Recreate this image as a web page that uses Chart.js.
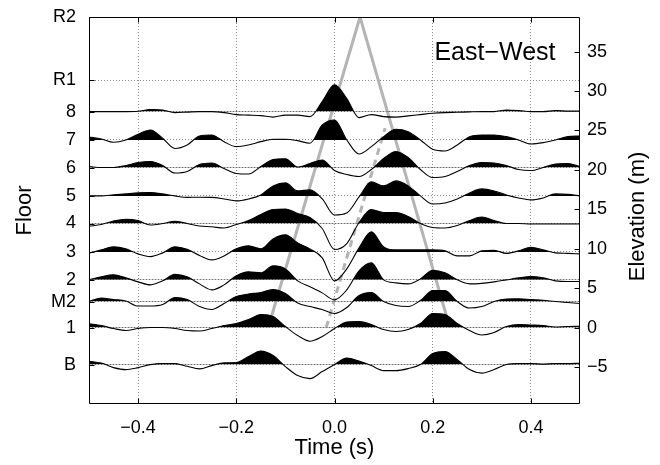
<!DOCTYPE html>
<html>
<head>
<meta charset="utf-8">
<script src="https://cdn.jsdelivr.net/npm/chart.js@4.4.1/dist/chart.umd.min.js"></script>
<style>
  html, body { margin: 0; padding: 0; background: #fff; }
  canvas { display: block; }
</style>
</head>
<body>
<canvas id="chart" width="660" height="465"></canvas>
<script>
// ===============================
// DATA
// ===============================
// floor levels (elevation in m) used for the left axis
const floorNames = ["B", "1", "M2", "2", "3", "4", "5", "6", "7", "8", "R1", "R2"];
const floorElev = [-4.7, 0, 3.3, 6.05, 9.6, 13.2, 16.7, 20.3, 23.8, 27.4, 31.4, 39.4];

// sample times (s)
const timeS = [-0.5, -0.475, -0.45, -0.425, -0.4, -0.375, -0.35, -0.325, -0.3, -0.275,
  -0.25, -0.225, -0.2, -0.175, -0.15, -0.125, -0.1, -0.075, -0.05, -0.025,
  0, 0.025, 0.05, 0.075, 0.1, 0.125, 0.15, 0.175, 0.2, 0.225,
  0.25, 0.275, 0.3, 0.325, 0.35, 0.375, 0.4, 0.425, 0.45, 0.475, 0.5];

// trace amplitudes per floor (plot units, scaled by GAIN to metres)
const amp8 = [0, 0, 0, 0, 0.3, 2, 1.5, -1, -0.5, 0, 0, -1, -3, -3.5, -4, -5.5, -3.5, -3.5, -5, 10,
  26.7, 13, -6, -3, -5, -5.5, -4.3, -3, -1.7, -1, -0.7, -0.3, 0, 0, 1.5, 1, 0, 0, 1, 0.5, 0.5];
const amp7 = [3, 1, -2.3, 0, 5.7, 10, 1.7, -8.5, -5, 4, 5, -1.7, -6.7, -5, -1.7, 0.7, 0.7, -0.7, -3.3, 15,
  20, 0, -14, -6.7, 3.3, 10.7, 8.3, 0, -9.3, -11, -5, 3.3, 5, 5, 3.3, 0, -4, -2.7, 0, 3.3, 4];
const amp6 = [1, 0, 0, 2, 5, 6, 2, -5.5, -4, 3, 4.5, -1, -6, -6.5, 1, 8, 8.7, 0.5, 4, 7.5,
  -3, -7, -9, -2, 9, 16, 10, -2, -10, -9, -4, 2, 5, 4.5, 2, -2, -3, 0, 3.5, 4, 1];
const amp5 = [0, 0, 1, 2, 3, 3.3, 2, 0, -1.5, -1.3, -1.5, -3, -5, -3, 1, 10, 13, 5, 6, -3,
  -19, -17, -1, 14, 10, 15, 10, 0, -8, -7, -3, 3, 7, 5, 1, -2, -4, -2, 2, 1.5, 0];
const amp4 = [-2.7, -1, 2.5, 4.3, 3, -1.5, 0, 2.3, 0, -2.5, -3.3, -4.5, -1, 3, 9, 14, 14.5, 10, 6, -5,
  -26, -20, 1, 14, 11, 11, 7, 0, -4, -4.5, -2, 3, 6.5, 3, 0, 0, -0.5, -0.5, -0.5, -0.5, -0.5];
const amp3 = [-1.3, 2, 5, 3, -2, -4.7, -1, 5, 2.5, -3.5, -8, -4, 3, 6, 3, 13, 17, 9, 3, -6,
  -29, -17, 4, 20, 5, 2, 2, 2, 2, 1, -4, -4, 1, 1.5, -1.5, 1, 4.7, 2, -1, -1.5, -2];
const amp2 = [0, 3, 5, 2, -2, -5, -1, 5.5, 3, -4, -10, -5, 4, 8, 7, 14, 11, -1, -7, -13,
  -20, -10, 9, 17, 0, -3, -4, 1, 9.5, 7, 0, -4, -3.5, -2, 0, 2, 3.3, 2, -1, -1.7, -1.7];
const ampM2 = [0, 3.5, 2, 0.5, -4.5, -4.5, -3, 4, 2, -5, -8, -2, 5, 7.5, 9, 12, 8, -1.5, -5, -8,
  -12, -6, 6, 9, 0, -4, -5, 1, 11, 11, 0, -6.5, -5, 0, 2.5, 2.7, 2, 1.3, 0, -1, -2];
const amp1 = [3.7, 2, -1, -3, -1, 0, 0, -1, -3, -3.5, -1, 2, 4, 8, 13, 11, 1, -8, -13.7, -9,
  -1, 5.5, 6, 3, -2, -4, -2, 4, 14, 13, 4, -3, -7.5, -5, 1, 3, 2.5, 2, 0.5, 1, 1.3];
const ampB = [3.3, 1.5, -3, -5, -3, 0, 1, 1, -1.7, -4.3, -1, 1.7, 2, 8, 13.5, 9, -2, -11, -14, -7,
  0, 6.5, 3.5, -1, -6, -6, -4, 0, 11, 13, 5, -5, -8.5, -5, 0, 1, 1, 0.5, 1, 1, 1.3];

const tracedFloors = ["8", "7", "6", "5", "4", "3", "2", "M2", "1", "B"];
const traceAmps = [amp8, amp7, amp6, amp5, amp4, amp3, amp2, ampM2, amp1, ampB];
const GAIN = 0.127; // metres of elevation per amplitude unit

// gray travel-time lines
const solidT = [-0.135, 0.052, 0.235];
const solidZ = [0, 39.4, 0];
const dashT = [-0.017, 0.103];
const dashZ = [0, 25.3];

// axis ticks
const timeTicks = [-0.4, -0.2, 0, 0.2, 0.4];
const elevTicks = [-5, 0, 5, 10, 15, 20, 25, 30, 35];
const elevMin = -9.7;
const elevMax = 39.4;

// ===============================
// CHART
// ===============================
const FONT = '"Liberation Sans", Arial, Helvetica, sans-serif';
Chart.defaults.font.family = FONT;
Chart.defaults.color = "#000";

const minus = s => s.replace("-", "\u2212");

const traceSets = tracedFloors.map((name, i) => {
  const base = floorElev[floorNames.indexOf(name)];
  return {
    label: name,
    data: timeS.map((t, k) => ({ x: t, y: base + traceAmps[i][k] * GAIN })),
    borderColor: "#000",
    borderWidth: 1.1,
    pointRadius: 0,
    cubicInterpolationMode: "monotone",
    fill: { target: { value: base }, above: "#000", below: "rgba(0,0,0,0)" },
    order: 0
  };
});

const graySets = [
  {
    label: "solid",
    data: solidT.map((t, k) => ({ x: t, y: solidZ[k] })),
    borderColor: "#b4b4b4", borderWidth: 3, pointRadius: 0, fill: false, order: 1
  },
  {
    label: "dashed",
    data: dashT.map((t, k) => ({ x: t, y: dashZ[k] })),
    borderColor: "#b4b4b4", borderWidth: 3, borderDash: [7, 5], pointRadius: 0, fill: false, order: 1
  }
];

// frame, inward ticks and extra texts
const frameTicks = {
  id: "frameTicks",
  afterDraw(chart) {
    const { ctx, chartArea: a, scales } = chart;
    const L = Math.round(a.left) + 0.5, R = Math.round(a.right) - 0.5;
    const T = Math.round(a.top) + 0.5, B = Math.round(a.bottom) - 0.5;
    ctx.save();
    ctx.strokeStyle = "#000";
    ctx.lineWidth = 1;
    ctx.beginPath();
    ctx.rect(L, T, R - L, B - T);
    floorElev.forEach(v => {
      const y = Math.round(scales.y.getPixelForValue(v)) + 0.5;
      ctx.moveTo(L, y); ctx.lineTo(L + 5, y);
    });
    elevTicks.forEach(v => {
      const y = Math.round(scales.y2.getPixelForValue(v)) + 0.5;
      ctx.moveTo(R, y); ctx.lineTo(R - 5, y);
    });
    timeTicks.forEach(v => {
      const x = Math.round(scales.x.getPixelForValue(v)) + 0.5;
      ctx.moveTo(x, B); ctx.lineTo(x, B - 5);
      ctx.moveTo(x, T); ctx.lineTo(x, T + 5);
    });
    ctx.stroke();

    ctx.fillStyle = "#000";
    ctx.font = "25px " + FONT;
    ctx.textAlign = "center";
    ctx.textBaseline = "alphabetic";
    ctx.fillText("East\u2212West", a.right - 85, a.top + 43);

    ctx.font = "22px " + FONT;
    ctx.textBaseline = "middle";
    ctx.translate(a.right + 58, (a.top + a.bottom) / 2 + 6);
    ctx.rotate(-Math.PI / 2);
    ctx.fillText("Elevation (m)", 0, 0);
    ctx.restore();
  }
};

// keep the plot box fixed: no extra room for half tick labels at the ends
const noOverhang = s => { s.paddingTop = 0; s.paddingBottom = 0; };

new Chart(document.getElementById("chart"), {
  type: "line",
  data: { datasets: traceSets.concat(graySets) },
  options: {
    responsive: false,
    animation: false,
    layout: { padding: { left: 0, right: 0, top: 17, bottom: 0 } },
    plugins: { legend: { display: false }, tooltip: { enabled: false } },
    scales: {
      x: {
        type: "linear",
        position: "bottom",
        min: -0.5,
        max: 0.5,
        afterBuildTicks: s => { s.ticks = timeTicks.map(v => ({ value: v })); },
        afterFit: s => { s.height = 61; s.paddingLeft = 0; s.paddingRight = 0; },
        ticks: {
          font: { size: 18 },
          padding: 13,
          maxRotation: 0,
          autoSkip: false,
          callback: v => minus(Number(v).toFixed(1))
        },
        grid: { color: "#8a8a8a", lineWidth: 1, drawTicks: false },
        border: { display: false, dash: [1, 2] },
        title: { display: true, text: "Time (s)", font: { size: 22 }, padding: { top: 2, bottom: 4 } }
      },
      y: {
        type: "linear",
        position: "left",
        min: elevMin,
        max: elevMax,
        afterBuildTicks: s => { s.ticks = floorElev.map(v => ({ value: v })); },
        afterFit: s => { s.width = 89; noOverhang(s); },
        ticks: {
          font: { size: 18 },
          padding: 13,
          autoSkip: false,
          callback: v => floorNames[floorElev.indexOf(v)]
        },
        grid: { color: "#8a8a8a", lineWidth: 1, drawTicks: false },
        border: { display: false, dash: [1, 2] },
        title: { display: true, text: "Floor", font: { size: 22 }, padding: { top: 12, bottom: 0 } }
      },
      y2: {
        type: "linear",
        position: "right",
        min: elevMin,
        max: elevMax,
        afterBuildTicks: s => { s.ticks = elevTicks.map(v => ({ value: v })); },
        afterFit: s => { s.width = 80; noOverhang(s); },
        ticks: {
          font: { size: 18 },
          padding: 7,
          autoSkip: false,
          callback: v => minus(String(v))
        },
        grid: { drawOnChartArea: false, drawTicks: false },
        border: { display: false }
      }
    }
  },
  plugins: [frameTicks]
});
</script>
</body>
</html>
